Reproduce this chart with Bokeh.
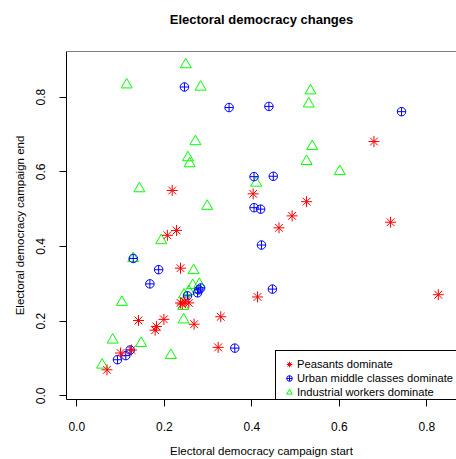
from bokeh.plotting import figure
from bokeh.models import Range1d, FixedTicker, Legend, LegendItem, Span, Title
from bokeh.embed import file_html
from bokeh.resources import INLINE

FONT = "Liberation Sans"

peasants_x = [0.069, 0.100, 0.125, 0.141, 0.182, 0.179, 0.199, 0.268, 0.207, 0.228, 0.218, 0.237, 0.237,
              0.247, 0.256, 0.241, 0.329, 0.323, 0.413, 0.403, 0.462, 0.492, 0.525, 0.679, 0.717, 0.826]
peasants_y = [0.070, 0.115, 0.123, 0.202, 0.186, 0.176, 0.205, 0.192, 0.430, 0.443, 0.550, 0.342, 0.249,
              0.252, 0.249, 0.246, 0.212, 0.130, 0.265, 0.541, 0.450, 0.482, 0.520, 0.681, 0.465, 0.271]

urban_x = [0.093, 0.112, 0.122, 0.129, 0.167, 0.187, 0.246, 0.253, 0.279, 0.283, 0.276, 0.348, 0.361,
           0.405, 0.405, 0.420, 0.422, 0.439, 0.449, 0.447, 0.742]
urban_y = [0.097, 0.108, 0.123, 0.368, 0.300, 0.338, 0.827, 0.268, 0.284, 0.289, 0.276, 0.772, 0.128,
           0.587, 0.504, 0.500, 0.404, 0.775, 0.588, 0.286, 0.761]

industrial_x = [0.058, 0.082, 0.103, 0.114, 0.129, 0.143, 0.147, 0.193, 0.215, 0.244, 0.243, 0.245, 0.256,
                0.249, 0.254, 0.258, 0.265, 0.280, 0.267, 0.271, 0.283, 0.298, 0.410, 0.525, 0.530, 0.534,
                0.538, 0.601]
industrial_y = [0.083, 0.150, 0.251, 0.833, 0.368, 0.555, 0.141, 0.416, 0.109, 0.204, 0.240, 0.271, 0.280,
                0.887, 0.638, 0.622, 0.296, 0.299, 0.336, 0.681, 0.827, 0.508, 0.570, 0.628, 0.782, 0.817,
                0.668, 0.601]

tick_values = [0.0, 0.2, 0.4, 0.6, 0.8]
tick_labels = ["0.0", "0.2", "0.4", "0.6", "0.8"]

series_labels = ["Peasants dominate", "Urban middle classes dominate", "Industrial workers dominate"]

x_start, x_end = -0.0235, 0.8676
y_start, y_end = -0.0095, 0.922

p = figure(width=456, height=459, output_backend="svg", toolbar_location=None, tools="",
           x_range=Range1d(x_start, x_end), y_range=Range1d(y_start, y_end),
           min_border_left=66, min_border_right=0, min_border_top=51, min_border_bottom=55,
           title="Electoral democracy changes")

p.xgrid.visible = False
p.ygrid.visible = False
p.outline_line_color = None
p.background_fill_color = "white"
p.border_fill_color = "white"

p.title.text_font = FONT
p.title.text_font_size = "13px"
p.title.text_font_style = "bold"
p.title.text_color = "black"
p.title.align = "center"
# empty spacer between the title and the plot frame
p.add_layout(Title(text=" ", text_font_size="10px", standoff=7), "above")

p.xaxis.axis_label = "Electoral democracy campaign start"
p.yaxis.axis_label = "Electoral democracy campaign end"

for ax in (p.xaxis[0], p.yaxis[0]):
    ax.ticker = FixedTicker(ticks=tick_values)
    ax.major_label_overrides = dict(zip(tick_values, tick_labels))
    ax.major_tick_out = 7
    ax.major_tick_in = 0
    ax.minor_tick_out = 0
    ax.minor_tick_in = 0
    ax.axis_line_color = "black"
    ax.major_tick_line_color = "black"
    ax.major_label_text_font = FONT
    ax.major_label_text_font_size = "12px"
    ax.major_label_text_color = "black"
    ax.axis_label_text_font = FONT
    ax.axis_label_text_font_size = "11.5px"
    ax.axis_label_text_font_style = "normal"
    ax.axis_label_text_color = "black"

p.xaxis.major_label_standoff = 15
p.xaxis.axis_label_standoff = 11
p.yaxis.major_label_orientation = "vertical"
p.yaxis.major_label_standoff = 14
p.yaxis.axis_label_standoff = 8

p.add_layout(Span(location=y_end, dimension="width", line_color="black", line_width=1))

r_ind = p.scatter(industrial_x, industrial_y, marker="triangle", size=11,
                  line_color="#00FF00", fill_color=None, line_width=1)
r_urb = p.scatter(urban_x, urban_y, marker="circle_cross", size=8.5,
                  line_color="#0000FF", fill_color=None, line_width=1)
r_pea = p.scatter(peasants_x, peasants_y, marker="asterisk", size=11,
                  line_color="#FF0000", line_width=1)

legend = Legend(items=[LegendItem(label=series_labels[0], renderers=[r_pea]),
                       LegendItem(label=series_labels[1], renderers=[r_urb]),
                       LegendItem(label=series_labels[2], renderers=[r_ind])],
                location=(209, -7), border_line_color="black", border_line_width=1,
                border_line_alpha=1, background_fill_color="white", background_fill_alpha=1,
                padding=6, spacing=0, glyph_height=14, glyph_width=14, label_height=14,
                label_standoff=1, label_text_font=FONT, label_text_font_size="11.2px",
                label_text_color="black", margin=0)
p.add_layout(legend)

open("out.html", "w").write(file_html(p, INLINE))
